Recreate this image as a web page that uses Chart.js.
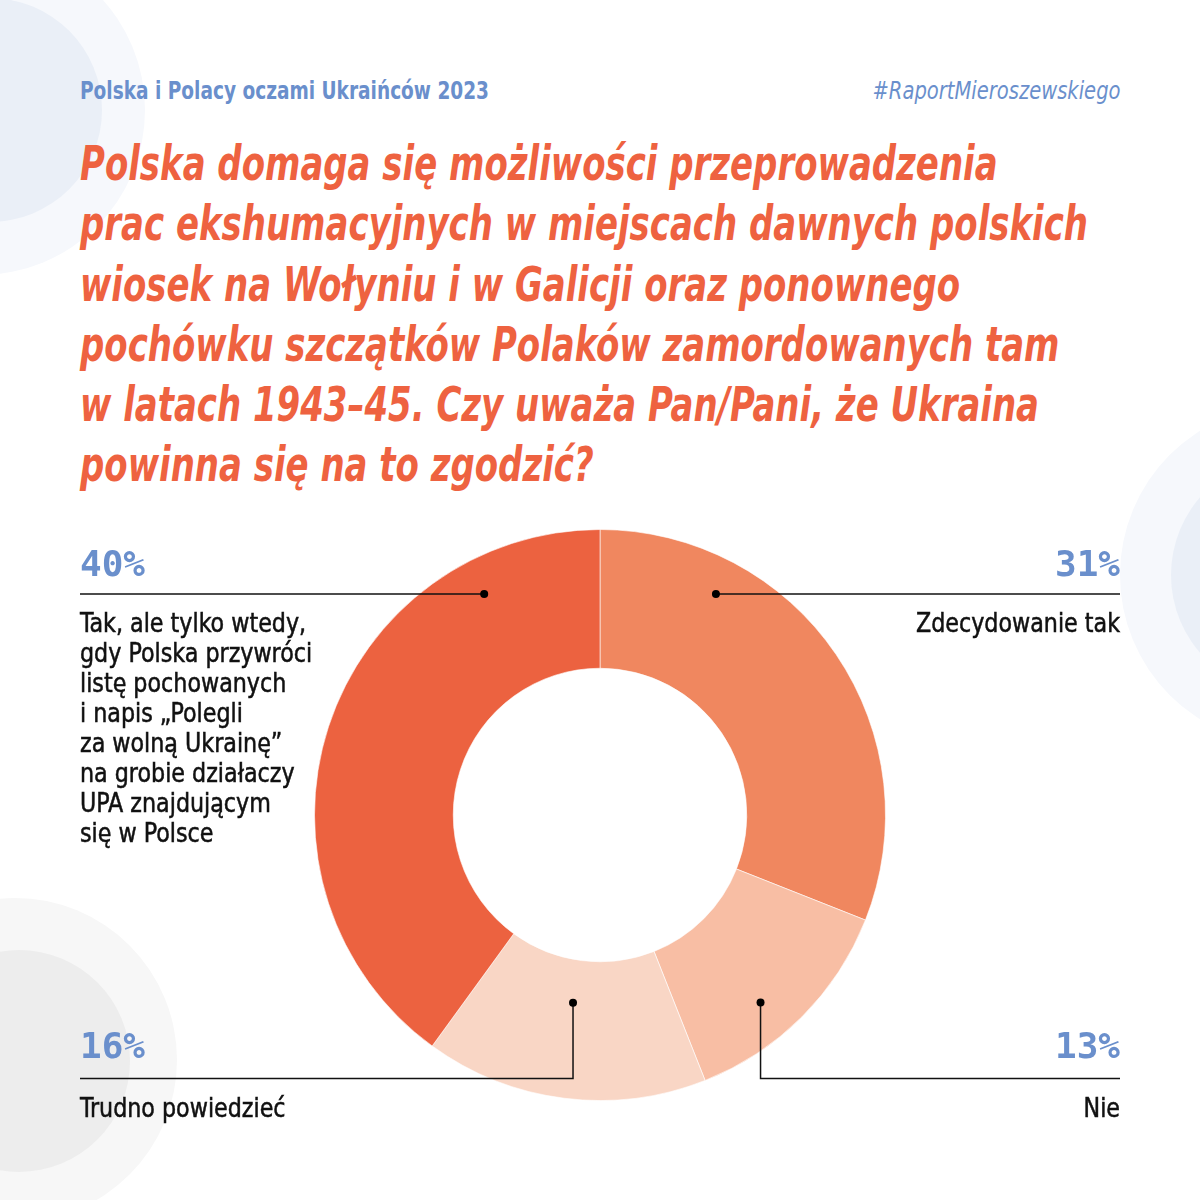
<!DOCTYPE html>
<html lang="pl">
<head>
<meta charset="utf-8">
<script src="https://cdn.jsdelivr.net/npm/chart.js@4"></script>
<style>
  html, body { margin: 0; padding: 0; }
  body { width: 1200px; height: 1200px; position: relative; overflow: hidden; background: #fff; }
  .blob { position: absolute; border-radius: 50%; }
  .head { position: absolute; top: 76px; font-family: "DejaVu Sans Condensed", sans-serif; font-size: 25px; line-height: 30px; color: #6a8fcc; white-space: nowrap; }
  #title { position: absolute; left: 80px; top: 133px; font-family: "DejaVu Sans Condensed", sans-serif; font-weight: bold; font-style: italic; font-size: 48px; line-height: 60.3px; color: #ee6240; white-space: nowrap; transform-origin: 0 0; }
  #wrap { position: absolute; left: 0; top: 0; width: 1200px; height: 1200px; }
</style>
</head>
<body>
<div class="blob" style="left:-185px;top:-55px;width:330px;height:330px;background:#f6f8fc"></div>
<div class="blob" style="left:-122px;top:-2px;width:224px;height:224px;background:#eaeff7"></div>
<div class="blob" style="left:1120px;top:405px;width:340px;height:340px;background:#f6f8fc"></div>
<div class="blob" style="left:1171px;top:456px;width:238px;height:238px;background:#eaeff7"></div>
<div class="blob" style="left:-147px;top:898px;width:324px;height:324px;background:#f7f7f7"></div>
<div class="blob" style="left:-92px;top:950px;width:222px;height:222px;background:#ededed"></div>

<div class="head" id="head1" style="left:80px;font-weight:bold;transform-origin:0 0">Polska i Polacy oczami Ukraińców 2023</div>
<div class="head" id="head2" style="right:80px;font-style:italic;transform-origin:100% 0">#RaportMieroszewskiego</div>
<div id="title">Polska domaga się możliwości przeprowadzenia<br>prac ekshumacyjnych w miejscach dawnych polskich<br>wiosek na Wołyniu i w Galicji oraz ponownego<br>pochówku szczątków Polaków zamordowanych tam<br>w latach 1943–45. Czy uważa Pan/Pani, że Ukraina<br>powinna się na to zgodzić?</div>

<div id="wrap"><canvas id="donut"></canvas></div>

<script>
// data
const categories = ["Zdecydowanie tak", "Nie", "Trudno powiedzieć", "Tak, ale tylko wtedy, gdy Polska przywróci listę pochowanych i napis „Polegli za wolną Ukrainę” na grobie działaczy UPA znajdującym się w Polsce"];
const values = [31, 13, 16, 40];
const labelLines = [
  ["Zdecydowanie tak"],
  ["Nie"],
  ["Trudno powiedzieć"],
  ["Tak, ale tylko wtedy,", "gdy Polska przywróci", "listę pochowanych", "i napis „Polegli", "za wolną Ukrainę”", "na grobie działaczy", "UPA znajdującym", "się w Polsce"]
];
const colors = ["#f0875f", "#f8bea4", "#f9d6c5", "#ec6240"];

// where each callout sits: fraction along the arc, depth into the ring, side
const callouts = [
  { at: 0.248, depth: 0.741, side: "right", lineY: null, pctGap: 18 },
  { at: 0.595, depth: 0.722, side: "right", lineY: 1078.5, pctGap: 21 },
  { at: 0.517, depth: 0.309, side: "left", lineY: 1078.5, pctGap: 21 },
  { at: 0.808, depth: 0.741, side: "left", lineY: null, pctGap: 18 }
];

// squeeze the condensed font a bit so the text runs as narrow as the original
const measure = document.createElement("canvas").getContext("2d");
function squeeze(el, font, text, target) {
  measure.font = font;
  const w = measure.measureText(text).width;
  el.style.transform = "scaleX(" + (target / w) + ")";
}
squeeze(document.getElementById("head1"), "bold 25px 'DejaVu Sans Condensed'", "Polska i Polacy oczami Ukraińców 2023", 409);
squeeze(document.getElementById("head2"), "italic 25px 'DejaVu Sans Condensed'", "#RaportMieroszewskiego", 248);
squeeze(document.getElementById("title"), "italic bold 48px 'DejaVu Sans Condensed'", "prac ekshumacyjnych w miejscach dawnych polskich", 1008);

const labelSqueeze = 0.95;

const calloutPlugin = {
  id: "callouts",
  afterDatasetsDraw(chart) {
    const ctx = chart.ctx;
    const meta = chart.getDatasetMeta(0);
    const leftX = 80, rightX = 1120;
    meta.data.forEach((arc, i) => {
      const c = callouts[i];
      const p = arc.getProps(["x", "y", "startAngle", "endAngle", "innerRadius", "outerRadius"], true);
      const a = p.startAngle + (p.endAngle - p.startAngle) * c.at;
      const r = p.innerRadius + (p.outerRadius - p.innerRadius) * c.depth;
      const px = p.x + Math.cos(a) * r;
      const py = p.y + Math.sin(a) * r;
      const lineY = c.lineY === null ? py : c.lineY;
      const edgeX = c.side === "right" ? rightX : leftX;

      ctx.save();
      ctx.strokeStyle = "#111";
      ctx.lineWidth = 1.5;
      ctx.beginPath();
      ctx.moveTo(px, py);
      if (lineY !== py) ctx.lineTo(px, lineY);
      ctx.lineTo(edgeX, lineY);
      ctx.stroke();
      ctx.fillStyle = "#000";
      ctx.beginPath();
      ctx.arc(px, py, 4, 0, Math.PI * 2);
      ctx.fill();

      ctx.textAlign = c.side === "right" ? "right" : "left";
      ctx.textBaseline = "alphabetic";
      ctx.fillStyle = "#6a8fcc";
      ctx.font = "bold 36px 'DejaVu Sans Mono', monospace";
      ctx.fillText(values[i] + "%", edgeX, lineY - c.pctGap);

      ctx.fillStyle = "#111";
      ctx.strokeStyle = "#111";
      ctx.lineWidth = 0.5;
      ctx.font = "26px 'DejaVu Sans Condensed', sans-serif";
      ctx.translate(edgeX, 0);
      ctx.scale(labelSqueeze, 1);
      labelLines[i].forEach((line, k) => {
        ctx.fillText(line, 0, lineY + 38 + k * 30);
        ctx.strokeText(line, 0, lineY + 38 + k * 30);
      });
      ctx.restore();
    });
  }
};

new Chart(document.getElementById("donut"), {
  type: "doughnut",
  data: {
    labels: categories,
    datasets: [{
      data: values,
      backgroundColor: colors,
      borderColor: "rgba(255,255,255,0.6)",
      borderWidth: 1
    }]
  },
  options: {
    responsive: true,
    maintainAspectRatio: false,
    animation: false,
    events: [],
    cutout: "51.4%",
    layout: { padding: { left: 314, right: 314, top: 529, bottom: 99 } },
    plugins: {
      legend: { display: false },
      tooltip: { enabled: false }
    }
  },
  plugins: [calloutPlugin]
});
</script>
</body>
</html>
